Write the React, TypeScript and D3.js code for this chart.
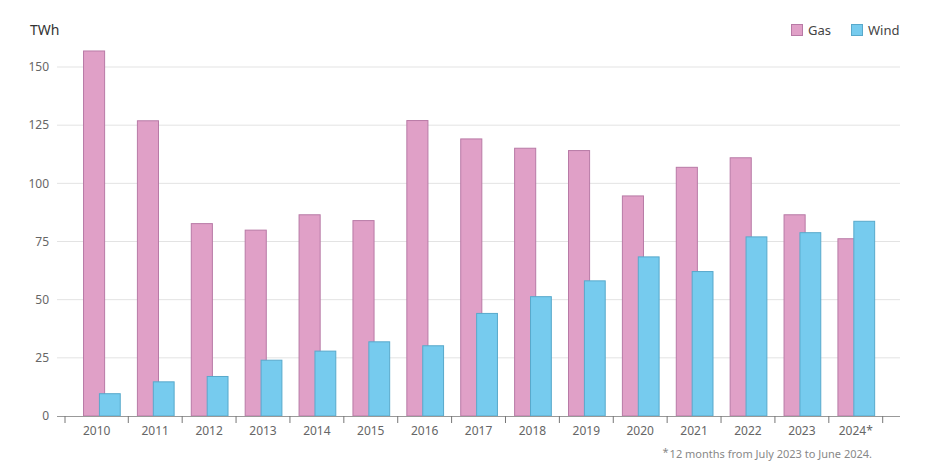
import { useEffect, useRef } from 'react'
import * as d3 from 'd3'

const years = ['2010', '2011', '2012', '2013', '2014', '2015', '2016', '2017', '2018', '2019', '2020', '2021', '2022', '2023', '2024*']
const gas = [157.1, 127.1, 82.9, 80.1, 86.7, 84.2, 127.2, 119.3, 115.3, 114.3, 94.8, 107.1, 111.2, 86.7, 76.4]
const wind = [9.8, 14.9, 17.2, 24.2, 28.1, 32.1, 30.4, 44.3, 51.5, 58.3, 68.6, 62.3, 77.2, 79.0, 83.9]
const yTicks = [0, 25, 50, 75, 100, 125, 150]

const series = [
  { name: 'Gas', values: gas, fill: '#e0a0c7', stroke: '#b87aa6', offset: 0.16, size: 0.41 },
  { name: 'Wind', values: wind, fill: '#76cbee', stroke: '#58a9cb', offset: 0.455, size: 0.405 },
]

export default function App() {
  const svgRef = useRef<SVGSVGElement>(null)

  useEffect(() => {
    if (!svgRef.current) return
    const svg = d3.select(svgRef.current)
    svg.selectAll('*').remove()

    const font = '"Noto Sans", sans-serif'
    const left = 57
    const right = 900

    const x = d3.scaleBand<string>()
      .domain(years)
      .range([74.4, 882.7])

    const y = d3.scaleLinear()
      .domain([0, 150])
      .range([416, 67])

    // gridlines
    svg.append('g')
      .selectAll('line')
      .data(yTicks.filter(d => d > 0))
      .join('line')
      .attr('x1', left)
      .attr('x2', right)
      .attr('y1', d => y(d))
      .attr('y2', d => y(d))
      .attr('stroke', '#e3e3e3')
      .attr('stroke-width', 1)

    // y labels
    svg.append('g')
      .selectAll('text')
      .data(yTicks)
      .join('text')
      .attr('x', 49)
      .attr('y', d => y(d))
      .attr('dy', '0.35em')
      .attr('text-anchor', 'end')
      .attr('font-family', font)
      .attr('font-size', 12)
      .attr('fill', '#666')
      .text(d => d)

    svg.append('text')
      .attr('x', 30)
      .attr('y', 35)
      .attr('font-family', font)
      .attr('font-size', 14)
      .attr('fill', '#333')
      .text('TWh')

    // bars
    const step = x.step()
    series.forEach(s => {
      svg.append('g')
        .selectAll('rect')
        .data(s.values)
        .join('rect')
        .attr('x', (d, i) => (x(years[i]) ?? 0) + s.offset * step + 0.5)
        .attr('y', d => y(d) + 0.5)
        .attr('width', s.size * step - 1)
        .attr('height', d => y(0) - y(d) - 0.5)
        .attr('fill', s.fill)
        .attr('stroke', s.stroke)
        .attr('stroke-width', 1)
    })

    // x axis
    svg.append('line')
      .attr('x1', left)
      .attr('x2', right)
      .attr('y1', y(0) + 0.5)
      .attr('y2', y(0) + 0.5)
      .attr('stroke', '#999')
      .attr('stroke-width', 1)

    const tickPos = [65, ...years.slice(1).map(c => x(c) ?? 0), x.range()[1]]
    svg.append('g')
      .selectAll('line')
      .data(tickPos)
      .join('line')
      .attr('x1', d => d)
      .attr('x2', d => d)
      .attr('y1', y(0))
      .attr('y2', y(0) + 7)
      .attr('stroke', '#777')
      .attr('stroke-width', 1)

    svg.append('g')
      .selectAll('text')
      .data(years)
      .join('text')
      .attr('x', (d, i) => (tickPos[i] + tickPos[i + 1]) / 2)
      .attr('y', 435)
      .attr('text-anchor', 'middle')
      .attr('font-family', font)
      .attr('font-size', 12)
      .attr('fill', '#666')
      .text(d => d)

    // legend
    const legend = svg.append('g')
    const legendX = [791, 851]
    series.forEach((s, i) => {
      legend.append('rect')
        .attr('x', legendX[i] + 0.5)
        .attr('y', 24.5)
        .attr('width', 11)
        .attr('height', 11)
        .attr('fill', s.fill)
        .attr('stroke', s.stroke)
      legend.append('text')
        .attr('x', legendX[i] + 17)
        .attr('y', 35)
        .attr('font-family', font)
        .attr('font-size', 13)
        .attr('fill', '#444')
        .text(s.name)
    })

    // footnote
    const note = svg.append('text')
      .attr('x', 872)
      .attr('y', 458)
      .attr('text-anchor', 'end')
      .attr('font-family', font)
      .attr('font-size', 11)
      .attr('fill', '#888')
    note.append('tspan').attr('dy', -2).text('*')
    note.append('tspan').attr('dy', 2).attr('dx', 1).text('12 months from July 2023 to June 2024.')
  }, [])

  return (
    <svg
      ref={svgRef}
      width={930}
      height={475}
      style={{ position: 'absolute', left: 0, top: 0, background: '#fff' }}
    />
  )
}
